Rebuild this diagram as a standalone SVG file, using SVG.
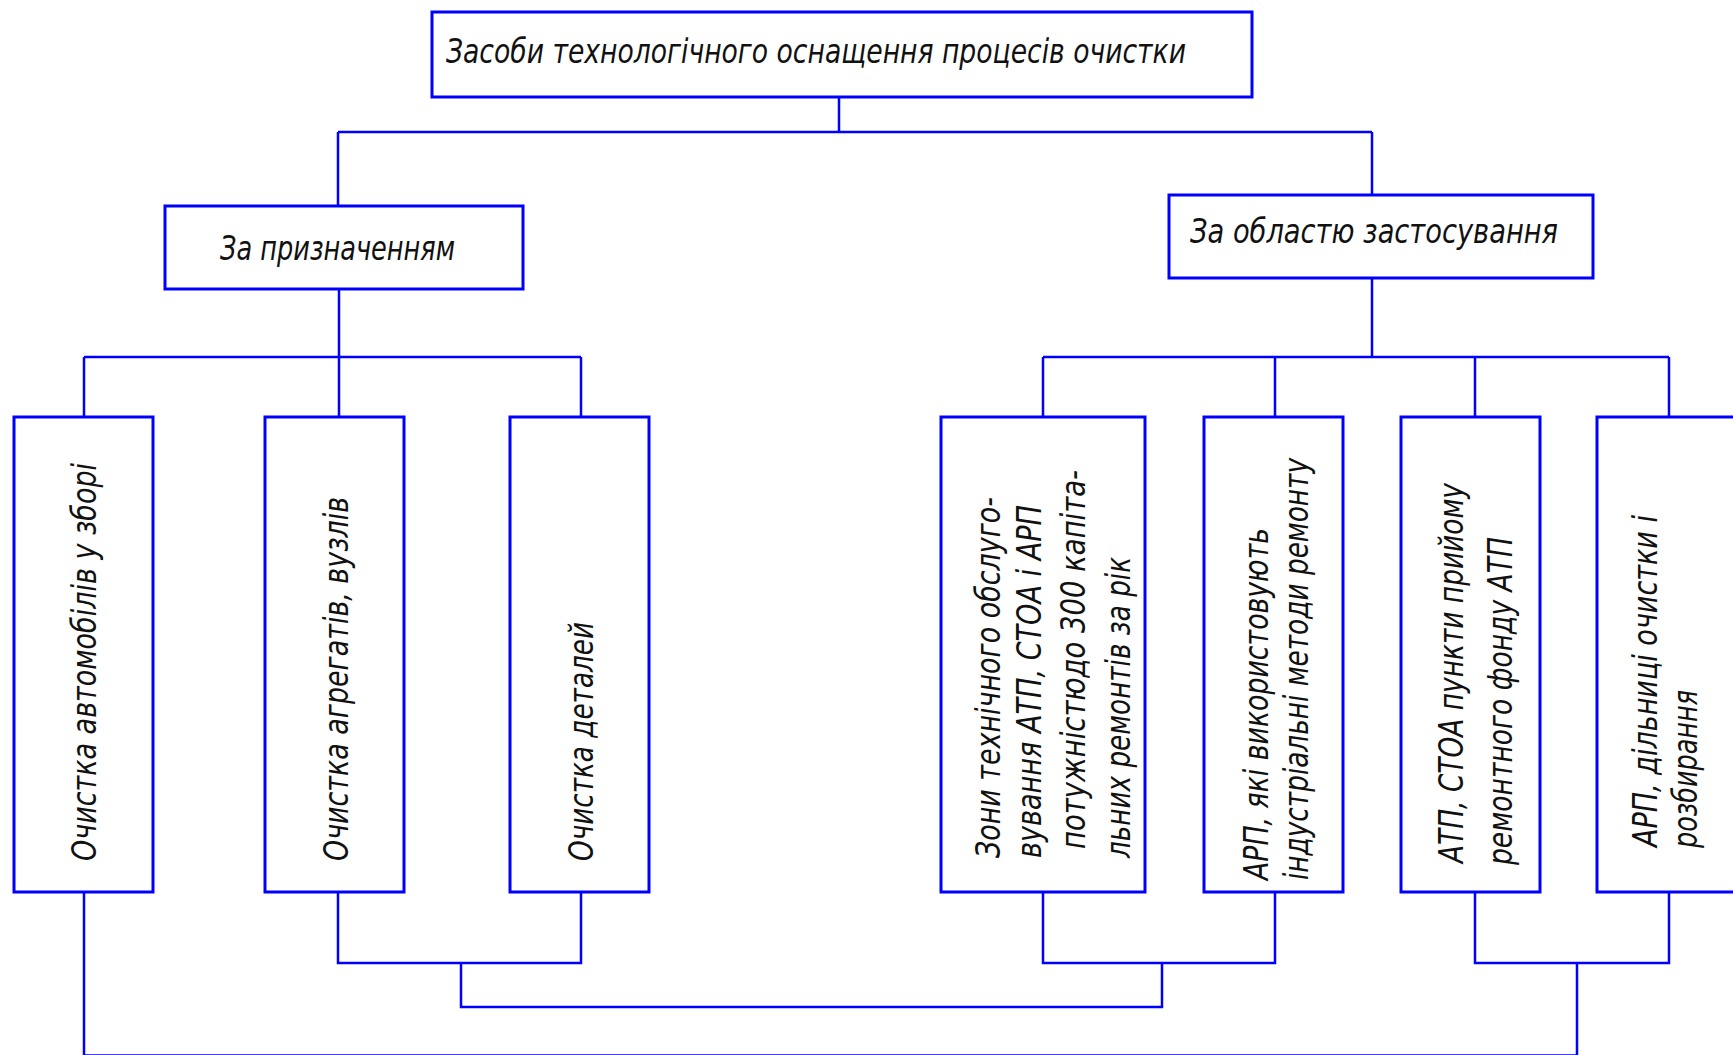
<svg xmlns="http://www.w3.org/2000/svg" width="1733" height="1055" viewBox="0 0 1733 1055">
<style>
.box{fill:#fff;stroke:#0000ff;stroke-width:3}
.con{fill:none;stroke:#0000ff;stroke-width:2.5}
.t{font-family:"DejaVu Sans","Liberation Sans",sans-serif;font-style:italic;font-size:34px;fill:#111}
</style>
<rect width="1733" height="1055" fill="#fff"/>
<g id="connectors" class="con">
<path d="M839 97V132M338 132H1372M338 132V206M1372 132V195"/>
<path d="M339 289V357M84 357H581M84 357V417M339 357V417M581 357V417"/>
<path d="M1372 278V357M1043 357H1669M1043 357V417M1275 357V417M1475 357V417M1669 357V417"/>
<path d="M338 892V963H581V892M1043 892V963H1275V892M1475 892V963H1669V892"/>
<path d="M461 963V1007H1162V963"/>
<path d="M84 892V1055.5H1577V963"/>
</g>
<g id="root"><rect class="box" x="432" y="12" width="820" height="85"/>
<text class="t" x="446" y="63" textLength="740" lengthAdjust="spacingAndGlyphs">Засоби технологічного оснащення процесів очистки</text></g>
<g id="purpose"><rect class="box" x="165" y="206" width="358" height="83"/>
<text class="t" x="220" y="260" textLength="235" lengthAdjust="spacingAndGlyphs">За призначенням</text></g>
<g id="scope"><rect class="box" x="1169" y="195" width="424" height="83"/>
<text class="t" x="1190" y="243" textLength="368" lengthAdjust="spacingAndGlyphs">За областю застосування</text></g>
<g id="leaf1"><rect class="box" x="14" y="417" width="139" height="475"/>
<text class="t" transform="translate(96 861) rotate(-90)" textLength="398" lengthAdjust="spacingAndGlyphs">Очистка автомобілів у зборі</text></g>
<g id="leaf2"><rect class="box" x="265" y="417" width="139" height="475"/>
<text class="t" transform="translate(348 861) rotate(-90)" textLength="364" lengthAdjust="spacingAndGlyphs">Очистка агрегатів, вузлів</text></g>
<g id="leaf3"><rect class="box" x="510" y="417" width="139" height="475"/>
<text class="t" transform="translate(593 861) rotate(-90)" textLength="239" lengthAdjust="spacingAndGlyphs">Очистка деталей</text></g>
<g id="leaf4"><rect class="box" x="941" y="417" width="204" height="475"/>
<text class="t" transform="translate(1000 858) rotate(-90)" textLength="361" lengthAdjust="spacingAndGlyphs">Зони технічного обслуго-</text>
<text class="t" transform="translate(1041 858) rotate(-90)" textLength="353" lengthAdjust="spacingAndGlyphs">вування АТП, СТОА і АРП</text>
<text class="t" transform="translate(1085 849) rotate(-90)" textLength="379" lengthAdjust="spacingAndGlyphs">потужністюдо 300 капіта-</text>
<text class="t" transform="translate(1130 858) rotate(-90)" textLength="301" lengthAdjust="spacingAndGlyphs">льних ремонтів за рік</text></g>
<g id="leaf5"><rect class="box" x="1204" y="417" width="139" height="475"/>
<text class="t" transform="translate(1268 880) rotate(-90)" textLength="352" lengthAdjust="spacingAndGlyphs">АРП, які використовують</text>
<text class="t" transform="translate(1308 880) rotate(-90)" textLength="422" lengthAdjust="spacingAndGlyphs">індустріальні методи ремонту</text></g>
<g id="leaf6"><rect class="box" x="1401" y="417" width="139" height="475"/>
<text class="t" transform="translate(1463 863) rotate(-90)" textLength="380" lengthAdjust="spacingAndGlyphs">АТП, СТОА пункти прийому</text>
<text class="t" transform="translate(1512 865) rotate(-90)" textLength="328" lengthAdjust="spacingAndGlyphs">ремонтного фонду АТП</text></g>
<g id="leaf7"><rect class="box" x="1597" y="417" width="140" height="475"/>
<text class="t" transform="translate(1657 847) rotate(-90)" textLength="332" lengthAdjust="spacingAndGlyphs">АРП, дільниці очистки і</text>
<text class="t" transform="translate(1697 848) rotate(-90)" textLength="158" lengthAdjust="spacingAndGlyphs">розбирання</text></g>
</svg>
